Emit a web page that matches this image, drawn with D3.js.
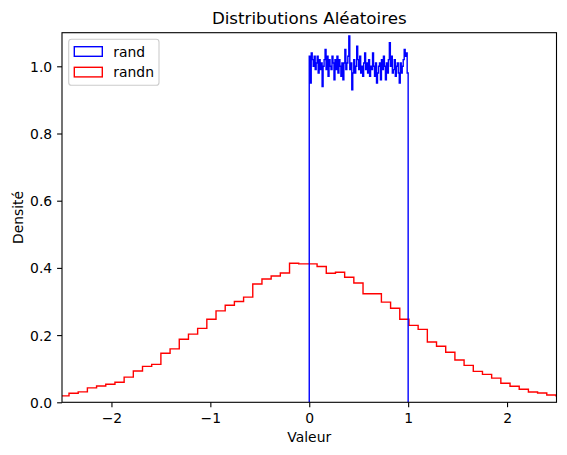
<!DOCTYPE html>
<html>
<head>
<meta charset="utf-8">
<script src="https://cdn.jsdelivr.net/npm/d3@7"></script>
<style>
html,body{margin:0;padding:0;background:#fff;}
svg{display:block;font-family:"DejaVu Sans",sans-serif;}
</style>
</head>
<body>
<svg id="chart" width="567" height="455"></svg>
<script>
// ---- data ----
const title = "Distributions Aléatoires";
const xLabel = "Valeur";
const yLabel = "Densité";
const seriesNames = ["rand", "randn"];
const seriesColors = ["#0000ff", "#ff0000"];
const xTicks = [-2, -1, 0, 1, 2];
const yTicks = [0.0, 0.2, 0.4, 0.6, 0.8, 1.0];
const xDomain = [-2.5, 2.5];
const yDomain = [0, 1.1];

// rand: 100 bins over [0, 1]
const randStart = 0.0;
const randBinWidth = 0.01;
const randDensity = [
  1.03, 0.95, 1.04, 1.02, 1.00, 1.03, 0.99, 1.01, 1.03, 0.98,
  1.02, 0.99, 1.01, 0.94, 1.00, 1.02, 1.05, 0.99, 1.03, 0.97,
  1.02, 1.00, 0.99, 1.03, 1.01, 0.96, 1.02, 0.99, 1.03, 0.98,
  1.02, 1.00, 0.97, 1.01, 0.96, 1.01, 1.05, 0.99, 1.01, 1.03,
  1.09, 0.99, 1.01, 0.93, 0.98, 1.02, 0.98, 1.00, 1.06, 1.02,
  0.99, 1.03, 0.98, 1.00, 0.97, 1.01, 1.04, 0.99, 1.01, 0.98,
  1.02, 0.97, 1.00, 0.99, 1.04, 1.00, 0.97, 1.01, 0.95, 0.98,
  1.00, 1.01, 0.96, 1.02, 0.99, 1.03, 1.00, 0.96, 1.01, 0.98,
  1.02, 1.07, 1.00, 1.03, 0.98, 0.99, 1.02, 0.97, 1.00, 1.01,
  0.98, 0.95, 1.01, 0.98, 1.00, 1.02, 1.05, 1.03, 1.04, 0.98
];

// randn: bins of width ~0.0929 starting at -2.522 (visible portion)
const randnStart = -2.522;
const randnBinWidth = 0.0929;
const randnDensity = [
  0.019, 0.027, 0.031, 0.043, 0.0485, 0.0535, 0.0595, 0.075, 0.093, 0.107,
  0.113, 0.146, 0.159, 0.1875, 0.203, 0.220, 0.247, 0.272, 0.289, 0.300,
  0.313, 0.352, 0.367, 0.376, 0.385, 0.414, 0.412, 0.412, 0.404, 0.384,
  0.387, 0.372, 0.355, 0.323, 0.323, 0.298, 0.280, 0.247, 0.229, 0.217,
  0.1795, 0.1667, 0.149, 0.126, 0.110, 0.092, 0.083, 0.072, 0.0565, 0.0476,
  0.0387, 0.0307, 0.0277, 0.0217, 0.019
];

// ---- layout ----
const W = 567, H = 455;
const m = {left: 62, right: 556.5, top: 32.7, bottom: 402.3};
const svg = d3.select("#chart");

const x = d3.scaleLinear().domain(xDomain).range([m.left, m.right]);
const y = d3.scaleLinear().domain(yDomain).range([m.bottom, m.top]);

svg.append("defs").append("clipPath").attr("id", "clip")
  .append("rect").attr("x", m.left).attr("y", m.top)
  .attr("width", m.right - m.left).attr("height", m.bottom - m.top);

function stepPoints(start, width, vals) {
  const pts = [[start, 0]];
  vals.forEach((v, i) => {
    pts.push([start + i * width, v]);
    pts.push([start + (i + 1) * width, v]);
  });
  pts.push([start + vals.length * width, 0]);
  return pts;
}
const line = d3.line().x(d => x(d[0])).y(d => y(d[1]));

const plot = svg.append("g").attr("clip-path", "url(#clip)");
plot.append("path")
  .attr("d", line(stepPoints(randnStart, randnBinWidth, randnDensity)))
  .attr("fill", "none").attr("stroke", seriesColors[1])
  .attr("stroke-width", 1.4).attr("stroke-linejoin", "miter");
plot.append("path")
  .attr("d", line(stepPoints(randStart, randBinWidth, randDensity)))
  .attr("fill", "none").attr("stroke", seriesColors[0])
  .attr("stroke-width", 1.4).attr("stroke-linejoin", "miter");

// axes
const xAxis = d3.axisBottom(x).tickValues(xTicks).tickFormat(d3.format("d"))
  .tickSize(4.9).tickPadding(4.9);
const yAxis = d3.axisLeft(y).tickValues(yTicks).tickFormat(d3.format(".1f"))
  .tickSize(4.9).tickPadding(4.9);

const gx = svg.append("g").attr("transform", `translate(0,${m.bottom})`).call(xAxis);
const gy = svg.append("g").attr("transform", `translate(${m.left},0)`).call(yAxis);
[gx, gy].forEach(g => {
  g.select(".domain").remove();
  g.selectAll(".tick line").attr("stroke", "#000").attr("stroke-width", 1.1);
  g.selectAll(".tick text").attr("fill", "#000")
    .style("font-family", "DejaVu Sans").style("font-size", "13.9px");
});
gx.selectAll(".tick text").attr("dy", null).attr("y", 21);
gy.selectAll(".tick text").attr("dy", "0.36em");

// spines
svg.append("rect").attr("x", m.left).attr("y", m.top)
  .attr("width", m.right - m.left).attr("height", m.bottom - m.top)
  .attr("fill", "none").attr("stroke", "#000").attr("stroke-width", 1.1);

// titles
svg.append("text").attr("x", (m.left + m.right) / 2).attr("y", 24)
  .attr("text-anchor", "middle").style("font-size", "16.7px").attr("fill", "#000")
  .text(title);
svg.append("text").attr("x", (m.left + m.right) / 2).attr("y", 441.7)
  .attr("text-anchor", "middle").style("font-size", "13.9px").attr("fill", "#000")
  .text(xLabel);
svg.append("text")
  .attr("transform", `translate(22.5,${(m.top + m.bottom) / 2}) rotate(-90)`)
  .attr("text-anchor", "middle").style("font-size", "13.9px").attr("fill", "#000")
  .text(yLabel);

// legend
const lg = svg.append("g");
lg.append("rect").attr("x", 68.7).attr("y", 39.3).attr("width", 90.3).attr("height", 46)
  .attr("rx", 2.8).attr("fill", "#fff").attr("fill-opacity", 0.8)
  .attr("stroke", "#cccccc").attr("stroke-width", 1.1);
seriesNames.forEach((name, i) => {
  const yy = 46.7 + i * 20.6;
  lg.append("rect").attr("x", 74.3).attr("y", yy).attr("width", 28).attr("height", 9.6)
    .attr("fill", "none").attr("stroke", seriesColors[i]).attr("stroke-width", 1.4);
  lg.append("text").attr("x", 113.3).attr("y", yy + 9.8)
    .style("font-size", "13.9px").attr("fill", "#000").text(name);
});
</script>
</body>
</html>
